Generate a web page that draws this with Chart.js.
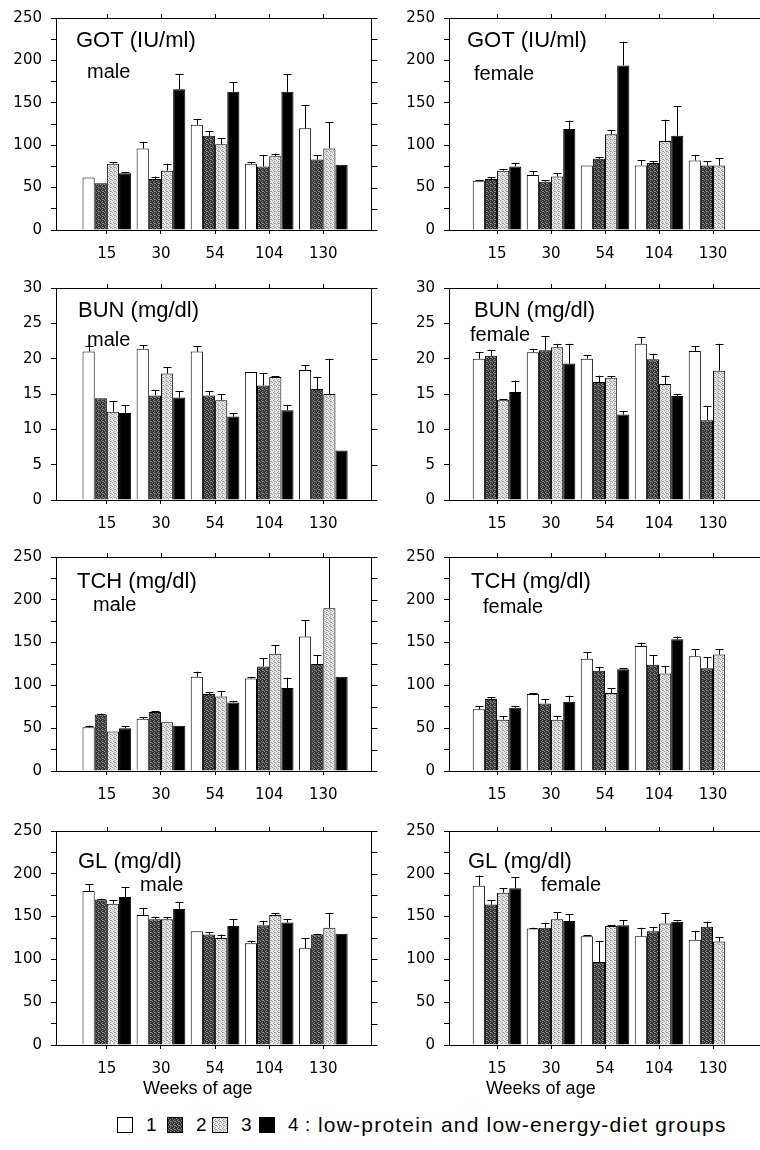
<!DOCTYPE html>
<html>
<head>
<meta charset="utf-8">
<script src="https://cdn.jsdelivr.net/npm/chart.js@4.4.1/dist/chart.umd.min.js"></script>
<style>
  body { margin: 0; background: #fff; width: 760px; height: 1150px; position: relative; overflow: hidden;
         font-family: "Liberation Sans", Arial, sans-serif; color: #000; }
  canvas { position: absolute; }
  #legend { position: absolute; left: 0; top: 1113px; width: 760px; height: 24px; font-size: 19px; white-space: pre; }
  #legend span { position: absolute; top: 0; line-height: 24px; }
  #legend .sw { top: 4px; width: 14px; height: 14px; border: 1px solid #000; }
  #legend .txt { font-size: 21px; letter-spacing: 1.2px; }
</style>
</head>
<body>
<canvas id="gotMale"></canvas>
<canvas id="gotFemale"></canvas>
<canvas id="bunMale"></canvas>
<canvas id="bunFemale"></canvas>
<canvas id="tchMale"></canvas>
<canvas id="tchFemale"></canvas>
<canvas id="glMale"></canvas>
<canvas id="glFemale"></canvas>
<div id="legend"></div>

<script>
// Weeks of age (categories) and diet groups
const weeks = ['15', '30', '54', '104', '130'];
const groups = ['1', '2', '3', '4'];

// Means per group (rows = groups 1..4, columns = weeks)
const gotMaleMean = [
  [62, 96, 124, 78, 120],
  [55, 60, 111, 75, 83],
  [78, 70, 101, 87, 96],
  [67, 166, 163, 163, 77]
];
const gotMaleSd = [
  [0, 8, 7, 2, 27],
  [0, 3, 6, 13, 5],
  [2, 8, 7, 3, 31],
  [1, 18, 11, 21, 0]
];
const gotFemaleMean = [
  [58, 65, 76, 76, 82],
  [60, 57, 84, 79, 76],
  [70, 63, 113, 105, 76],
  [75, 119, 194, 111, null]
];
const gotFemaleSd = [
  [1, 4, 0, 6, 6],
  [2, 2, 2, 2, 5],
  [2, 4, 5, 25, 9],
  [4, 10, 28, 35, null]
];
const bunMaleMean = [
  [21.0, 21.4, 21.0, 18.1, 18.4],
  [14.4, 14.8, 14.8, 16.2, 15.7],
  [12.5, 17.9, 14.1, 17.4, 15.0],
  [12.3, 14.5, 11.8, 12.7, 7.0]
];
const bunMaleSd = [
  [0.8, 0.5, 0.8, 0, 0.7],
  [0, 0.7, 0.6, 1.8, 1.7],
  [1.5, 0.9, 0.9, 0.1, 5.0],
  [1.1, 0.9, 0.5, 0.7, 0]
];
const bunFemaleMean = [
  [20.0, 20.9, 20.0, 22.1, 21.1],
  [20.4, 21.2, 16.7, 19.9, 11.3],
  [14.2, 21.6, 17.3, 16.4, 18.3],
  [15.3, 19.3, 12.1, 14.7, null]
];
const bunFemaleSd = [
  [0.9, 0.5, 0.5, 0.9, 0.7],
  [0.8, 2.0, 0.9, 0.8, 2.0],
  [0.1, 0.5, 0.2, 1.2, 3.8],
  [1.6, 2.8, 0.5, 0.3, null]
];
const tchMaleMean = [
  [51, 61, 110, 108, 157],
  [66, 69, 90, 122, 125],
  [46, 57, 87, 137, 190],
  [50, 53, 80, 97, 110]
];
const tchMaleSd = [
  [2, 2, 6, 2, 19],
  [1, 1, 2, 10, 10],
  [0, 0, 6, 10, 60],
  [2, 0, 2, 12, 0]
];
const tchFemaleMean = [
  [72, 90, 131, 146, 134],
  [84, 79, 117, 124, 120],
  [60, 60, 91, 114, 136],
  [74, 81, 119, 154, null]
];
const tchFemaleSd = [
  [4, 1, 8, 4, 8],
  [2, 5, 4, 11, 13],
  [4, 4, 6, 9, 6],
  [2, 7, 1, 3, null]
];
const glMaleMean = [
  [180, 152, 133, 119, 113],
  [170, 147, 129, 140, 129],
  [165, 147, 125, 152, 137],
  [173, 159, 139, 143, 130]
];
const glMaleSd = [
  [8, 8, 0, 2, 12],
  [1, 2, 3, 5, 1],
  [4, 2, 4, 2, 17],
  [11, 8, 8, 4, 0]
];
const glFemaleMean = [
  [186, 136, 127, 127, 123],
  [164, 137, 97, 133, 138],
  [178, 147, 139, 142, 121],
  [183, 145, 140, 144, null]
];
const glFemaleSd = [
  [12, 1, 1, 10, 10],
  [5, 6, 24, 5, 6],
  [5, 8, 1, 12, 5],
  [13, 8, 6, 2, null]
];

// Fill patterns for the four groups
function makeTile(base, dot) {
  const c = document.createElement('canvas');
  c.width = 4; c.height = 4;
  const g = c.getContext('2d');
  g.fillStyle = base;
  g.fillRect(0, 0, 4, 4);
  g.fillStyle = dot;
  [[0, 0], [2, 1], [1, 2], [3, 3], [2, 3]].forEach(([x, y]) => g.fillRect(x, y, 1, 1));
  return c;
}
const darkTile = makeTile('#333333', '#8a8a8a');
const lightTile = makeTile('#e6e6e6', '#9a9a9a');
const patCtx = document.createElement('canvas').getContext('2d');
const groupFills = ['#ffffff', patCtx.createPattern(darkTile, 'repeat'), patCtx.createPattern(lightTile, 'repeat'), '#000000'];

// Layout of the 2 x 4 grid of panels
const rowTop = [0, 270, 539, 813];
const rowPlotH = [216, 216, 218, 218];
const padTop = 14;
const xAxisH = 34;
const side = {
  left:  { canvasLeft: 0,   yAxisW: 56, padRight: 8, xMin: 0.06, xMax: 5.9 },
  right: { canvasLeft: 380, yAxisW: 69, padRight: 0, xMin: 0.11, xMax: 5.87 }
};

const panels = [
  { id: 'gotMale',   title: 'GOT (IU/ml)', sex: 'male',   mean: gotMaleMean,   sd: gotMaleSd,   yMax: 250, step: 25,  every: 50, side: 'left',  row: 0, titleAt: [20, 29], sexAt: [31, 60] },
  { id: 'gotFemale', title: 'GOT (IU/ml)', sex: 'female', mean: gotFemaleMean, sd: gotFemaleSd, yMax: 250, step: 25,  every: 50, side: 'right', row: 0, titleAt: [18, 29], sexAt: [25, 62] },
  { id: 'bunMale',   title: 'BUN (mg/dl)', sex: 'male',   mean: bunMaleMean,   sd: bunMaleSd,   yMax: 30,  step: 2.5, every: 5,  side: 'left',  row: 1, titleAt: [22, 29], sexAt: [31, 58] },
  { id: 'bunFemale', title: 'BUN (mg/dl)', sex: 'female', mean: bunFemaleMean, sd: bunFemaleSd, yMax: 30,  step: 2.5, every: 5,  side: 'right', row: 1, titleAt: [25, 29], sexAt: [21, 53] },
  { id: 'tchMale',   title: 'TCH (mg/dl)', sex: 'male',   mean: tchMaleMean,   sd: tchMaleSd,   yMax: 250, step: 25,  every: 50, side: 'left',  row: 2, titleAt: [21, 31], sexAt: [37, 54] },
  { id: 'tchFemale', title: 'TCH (mg/dl)', sex: 'female', mean: tchFemaleMean, sd: tchFemaleSd, yMax: 250, step: 25,  every: 50, side: 'right', row: 2, titleAt: [22, 31], sexAt: [34, 56] },
  { id: 'glMale',    title: 'GL (mg/dl)',  sex: 'male',   mean: glMaleMean,    sd: glMaleSd,    yMax: 250, step: 25,  every: 50, side: 'left',  row: 3, titleAt: [22, 37], sexAt: [84, 60], weeksAt: 2.68 },
  { id: 'glFemale',  title: 'GL (mg/dl)',  sex: 'female', mean: glFemaleMean,  sd: glFemaleSd,  yMax: 250, step: 25,  every: 50, side: 'right', row: 3, titleAt: [19, 37], sexAt: [92, 60], weeksAt: 1.81 }
];

// Upward error bars (mean + SD) with a small cap
function errorBarPlugin(p) {
  return {
    id: 'errorBars',
    afterDatasetsDraw(chart) {
      const ctx = chart.ctx;
      const y = chart.scales.y;
      const area = chart.chartArea;
      ctx.save();
      ctx.strokeStyle = '#000';
      ctx.lineWidth = 1;
      chart.data.datasets.forEach((ds, d) => {
        const meta = chart.getDatasetMeta(d);
        meta.data.forEach((bar, i) => {
          const m = p.mean[d][i];
          const s = p.sd[d][i];
          if (m == null || !s) return;
          const yTop = Math.max(area.top, y.getPixelForValue(m + s));
          const x = Math.round(bar.x) + 0.5;
          ctx.beginPath();
          ctx.moveTo(x, bar.y);
          ctx.lineTo(x, yTop);
          ctx.moveTo(x - 4, Math.round(yTop) + 0.5);
          ctx.lineTo(x + 4, Math.round(yTop) + 0.5);
          ctx.stroke();
        });
      });
      ctx.restore();
    }
  };
}

// Top and right frame lines with their tick marks, plus panel texts
function framePlugin(p) {
  return {
    id: 'frame',
    afterDraw(chart) {
      const ctx = chart.ctx;
      const a = chart.chartArea;
      const xs = chart.scales.x;
      const ys = chart.scales.y;
      ctx.save();
      ctx.strokeStyle = '#000';
      ctx.lineWidth = 1;
      ctx.beginPath();
      ctx.moveTo(a.left, Math.round(a.top) + 0.5);
      ctx.lineTo(a.right, Math.round(a.top) + 0.5);
      xs.ticks.forEach(t => {
        const px = Math.round(xs.getPixelForValue(t.value)) + 0.5;
        ctx.moveTo(px, a.top);
        ctx.lineTo(px, a.top - 4);
      });
      if (p.side === 'left') {
        const rx = Math.round(a.right) - 0.5;
        ctx.moveTo(rx, a.top);
        ctx.lineTo(rx, a.bottom);
        ys.ticks.forEach(t => {
          const py = Math.round(ys.getPixelForValue(t.value)) + 0.5;
          ctx.moveTo(rx, py);
          ctx.lineTo(rx + 6, py);
        });
      }
      ctx.stroke();

      ctx.fillStyle = '#000';
      ctx.textBaseline = 'alphabetic';
      ctx.textAlign = 'left';
      ctx.font = '22px "Liberation Sans", Arial, sans-serif';
      ctx.fillText(p.title, a.left + p.titleAt[0], a.top + p.titleAt[1]);
      ctx.font = '20px "Liberation Sans", Arial, sans-serif';
      ctx.fillText(p.sex, a.left + p.sexAt[0], a.top + p.sexAt[1]);
      if (p.weeksAt) {
        ctx.textAlign = 'center';
        ctx.font = '18px "Liberation Sans", Arial, sans-serif';
        ctx.fillText('Weeks of age', xs.getPixelForValue(p.weeksAt), a.bottom + 49);
      }
      ctx.restore();
    }
  };
}

function createPanel(p) {
  const s = side[p.side];
  const canvas = document.getElementById(p.id);
  const extra = p.weeksAt ? 30 : 0;
  canvas.width = 380;
  canvas.height = padTop + rowPlotH[p.row] + xAxisH + extra;
  canvas.style.left = s.canvasLeft + 'px';
  canvas.style.top = rowTop[p.row] + 'px';

  const datasets = groups.map((g, d) => ({
    label: g,
    data: p.mean[d].map((v, i) => ({ x: i + 1, y: v })),
    backgroundColor: groupFills[d],
    borderColor: '#000',
    borderWidth: 1,
    borderSkipped: 'bottom',
    categoryPercentage: 0.9,
    barPercentage: 1.0
  }));

  return new Chart(canvas, {
    type: 'bar',
    data: { datasets },
    options: {
      responsive: false,
      animation: false,
      events: [],
      layout: { padding: { top: padTop, right: s.padRight, bottom: extra, left: 0 } },
      plugins: {
        legend: { display: false },
        tooltip: { enabled: false }
      },
      scales: {
        x: {
          type: 'linear',
          min: s.xMin,
          max: s.xMax,
          offset: false,
          afterBuildTicks: axis => { axis.ticks = weeks.map((w, i) => ({ value: i + 1 })); },
          afterFit: axis => { axis.height = xAxisH; },
          grid: { offset: false, drawOnChartArea: false, color: '#000', tickLength: 4 },
          border: { color: '#000', width: 1 },
          ticks: {
            autoSkip: false,
            maxRotation: 0,
            padding: 11,
            color: '#000',
            font: { family: '"DejaVu Sans", sans-serif', size: 15 },
            callback: v => weeks[Math.round(v) - 1]
          }
        },
        y: {
          min: 0,
          max: p.yMax,
          afterFit: axis => { axis.width = s.yAxisW; },
          grid: { drawOnChartArea: false, color: '#000', tickLength: 5 },
          border: { color: '#000', width: 1 },
          ticks: {
            stepSize: p.step,
            padding: 9,
            color: '#000',
            font: { family: '"DejaVu Sans", sans-serif', size: 15 },
            callback: v => (Math.round(v * 10) % Math.round(p.every * 10) === 0 ? String(v) : '')
          }
        }
      }
    },
    plugins: [errorBarPlugin(p), framePlugin(p)]
  });
}

panels.forEach(createPanel);

// Shared legend under the grid
const legend = document.getElementById('legend');
const swatchBg = ['#fff', 'url(' + darkTile.toDataURL() + ')', 'url(' + lightTile.toDataURL() + ')', '#000'];
const swatchLeft = [117, 167, 212, 259];
function addSpan(cls, left, text) {
  const el = document.createElement('span');
  if (cls) el.className = cls;
  el.style.left = left + 'px';
  if (text) el.textContent = text;
  legend.appendChild(el);
  return el;
}
groups.forEach((g, d) => {
  addSpan('sw', swatchLeft[d]).style.background = swatchBg[d];
  addSpan('', swatchLeft[d] + 29, g);
});
addSpan('', 305, ':');
addSpan('txt', 318, 'low-protein and low-energy-diet groups');
</script>
</body>
</html>
